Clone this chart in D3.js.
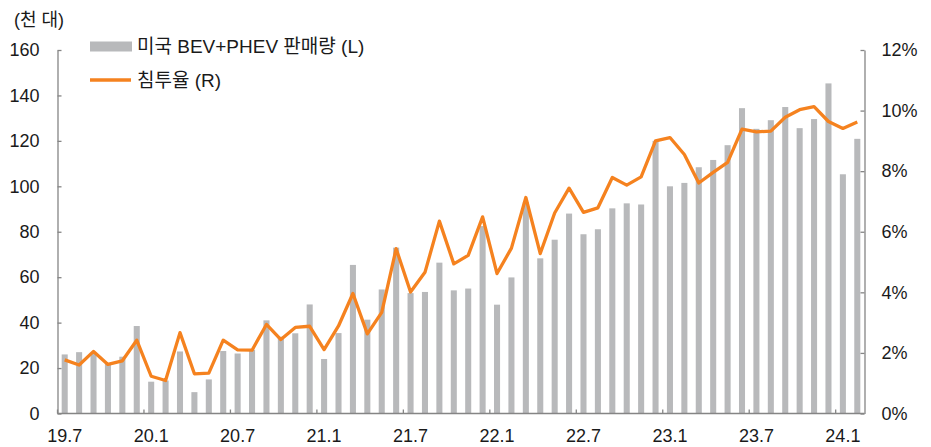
<!DOCTYPE html>
<html>
<head>
<meta charset="utf-8">
<script src="https://cdn.jsdelivr.net/npm/d3@7"></script>
<style>
  html, body { margin: 0; padding: 0; background: #fff; }
  svg { display: block; }
  text { font-family: "Liberation Sans", "Noto Sans CJK KR", sans-serif; fill: #1a1a1a; }
</style>
</head>
<body>
<svg id="chart" width="931" height="447"></svg>
<script>
const months = [
  "19.7","19.8","19.9","19.10","19.11","19.12",
  "20.1","20.2","20.3","20.4","20.5","20.6","20.7","20.8","20.9","20.10","20.11","20.12",
  "21.1","21.2","21.3","21.4","21.5","21.6","21.7","21.8","21.9","21.10","21.11","21.12",
  "22.1","22.2","22.3","22.4","22.5","22.6","22.7","22.8","22.9","22.10","22.11","22.12",
  "23.1","23.2","23.3","23.4","23.5","23.6","23.7","23.8","23.9","23.10","23.11","23.12",
  "24.1","24.2"
];
const tickMonths = ["19.7","20.1","20.7","21.1","21.7","22.1","22.7","23.1","23.7","24.1"];
const sales = [
  26, 27, 26.5, 22, 25, 38.5,
  14, 14.5, 27.3, 9.4, 15, 27.5, 26.4, 28, 41, 33.8, 35.3, 48,
  24, 35.4, 65.4, 41.3, 54.6, 73, 53, 53.5, 66.4, 54.2, 55, 82.5,
  47.9, 59.9, 93, 68.3, 76.5, 88, 78.9, 81.1, 90.3, 92.5, 92, 120,
  100, 101.5, 108.4, 111.6, 118.1, 134.4, 125.3, 129.1, 134.9, 125.6, 129.6, 145.3,
  105.3, 120.9
];
const penetration = [
  1.77, 1.60, 2.05, 1.62, 1.74, 2.42,
  1.23, 1.09, 2.67, 1.31, 1.33, 2.42, 2.10, 2.09, 2.94, 2.44, 2.84, 2.88,
  2.11, 2.89, 3.96, 2.63, 3.34, 5.44, 4.01, 4.66, 6.35, 4.94, 5.22, 6.49,
  4.62, 5.46, 7.13, 5.28, 6.62, 7.44, 6.64, 6.79, 7.79, 7.54, 7.81, 9.00,
  9.11, 8.55, 7.61, 7.96, 8.29, 9.39, 9.30, 9.32, 9.78, 10.03, 10.13, 9.64,
  9.41, 9.62
];
const leftTicks = [0, 20, 40, 60, 80, 100, 120, 140, 160];
const rightTicks = [0, 2, 4, 6, 8, 10, 12];
const unitLabel = "(천 대)";
const legendBar = "미국 BEV+PHEV 판매량 (L)";
const legendLine = "침투율 (R)";

const barColor = "#b8b9bb";
const lineColor = "#f5821f";
const axisColor = "#858585";

const svg = d3.select("#chart");
const L = 57.5, R = 864.5, T = 50, B = 413.5;

const x = d3.scaleBand().domain(months).range([L, R]).paddingInner(0.58).paddingOuter(0.29);
const yL = d3.scaleLinear().domain([0, 160]).range([B, T]);
const yR = d3.scaleLinear().domain([0, 12]).range([B, T]);
const step = x.step();
const gap = step - x.bandwidth();

// bars
svg.append("g").selectAll("rect").data(sales).join("rect")
  .attr("x", (d, i) => x(months[i]))
  .attr("y", d => yL(d))
  .attr("width", x.bandwidth())
  .attr("height", d => B - yL(d))
  .attr("fill", barColor);

// line
const line = d3.line()
  .x((d, i) => x(months[i]) + x.bandwidth() / 2)
  .y(d => yR(d));
svg.append("path").datum(penetration)
  .attr("d", line)
  .attr("fill", "none")
  .attr("stroke", lineColor)
  .attr("stroke-width", 3.3)
  .attr("stroke-linejoin", "round");

// left axis
const gL = svg.append("g").attr("transform", `translate(${L},0)`)
  .call(d3.axisLeft(yL).tickValues(leftTicks).tickSizeInner(-4).tickSizeOuter(0).tickPadding(18));
// right axis
const gR = svg.append("g").attr("transform", `translate(${R},0)`)
  .call(d3.axisRight(yR).tickValues(rightTicks).tickFormat(d => d + "%").tickSizeInner(-4).tickSizeOuter(0).tickPadding(17));

// bottom axis
const gB = svg.append("g");
gB.append("line").attr("x1", L).attr("x2", R).attr("y1", B).attr("y2", B);
gB.selectAll("line.tk").data(tickMonths).join("line").attr("class", "tk")
  .attr("x1", d => x(d) - gap / 2).attr("x2", d => x(d) - gap / 2)
  .attr("y1", B).attr("y2", B - 4);
gB.selectAll("text").data(tickMonths).join("text")
  .attr("x", d => x(d) + x.bandwidth() / 2)
  .attr("y", 442)
  .attr("text-anchor", "middle")
  .attr("font-size", 18)
  .text(d => d);

[gL, gR].forEach(g => {
  g.selectAll("text").attr("font-size", 18).attr("fill", "#1a1a1a").attr("font-family", null);
  g.attr("font-family", null);
});
svg.selectAll("g path.domain, g line").attr("stroke", axisColor).attr("stroke-width", 1.3);
gB.selectAll("line").attr("stroke", axisColor).attr("stroke-width", 1.3);

// unit label
svg.append("text").attr("x", 14).attr("y", 26).attr("font-size", 18).text(unitLabel);

// legend
svg.append("rect").attr("x", 90).attr("y", 41.5).attr("width", 42).attr("height", 10).attr("fill", barColor);
svg.append("text").attr("x", 137).attr("y", 53).attr("font-size", 19).text(legendBar);
svg.append("line").attr("x1", 90).attr("x2", 131).attr("y1", 80).attr("y2", 80)
  .attr("stroke", lineColor).attr("stroke-width", 3.3);
svg.append("text").attr("x", 137).attr("y", 86.5).attr("font-size", 19).text(legendLine);
</script>
</body>
</html>
